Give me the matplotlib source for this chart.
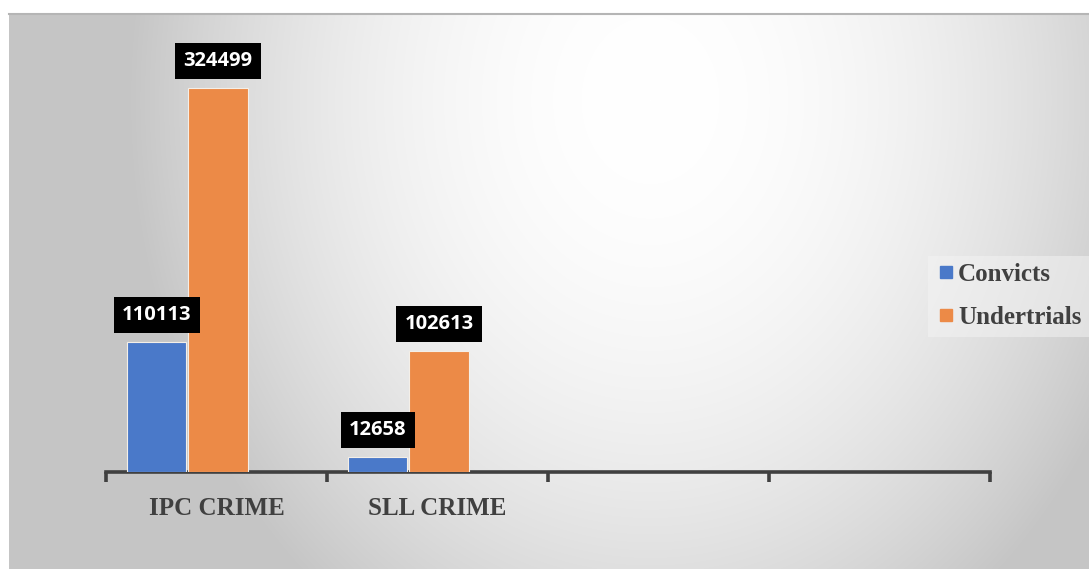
import numpy as np
import matplotlib
matplotlib.use("Agg")
import matplotlib.pyplot as plt
from matplotlib.lines import Line2D

# Data
categories = ["IPC CRIME", "SLL CRIME", "", ""]
series_names = ["Convicts", "Undertrials"]
convicts = [110113, 12658, None, None]
undertrials = [324499, 102613, None, None]
colors = ["#4a79c9", "#ec8a47"]

W, H, DPI = 1089, 569, 100
fig = plt.figure(figsize=(W / DPI, H / DPI), dpi=DPI)
fig.patch.set_facecolor("white")

# Radial grey-to-white backdrop
bg_left, bg_top = 9, 14
bg = fig.add_axes([bg_left / W, 0, 1 - bg_left / W, (H - bg_top) / H])
bw, bh = W - bg_left, H - bg_top
xx, yy = np.meshgrid(np.arange(bw) + bg_left, np.arange(bh) + bg_top)
cx, cy, rx, ry = 650, 100, 560, 680
d2 = ((xx - cx) / rx) ** 2 + ((yy - cy) / ry) ** 2
val = np.clip(1.0 - 0.26 * d2, 0.775, 1.0)
bg.imshow(np.dstack([val, val, val]), aspect="auto", interpolation="bilinear")
bg.set_axis_off()
# thin grey edge along the top
fig.add_artist(Line2D([bg_left / W, 1], [(H - bg_top) / H] * 2, color="#b5b5b5", lw=1.5,
                      transform=fig.transFigure))

# Main plotting area
ax_left, ax_right, ax_base, ymax = 106, 990, 472, 350000
px_per_unit = 384 / 324499
ax_h = ymax * px_per_unit
ax = fig.add_axes([ax_left / W, (H - ax_base) / H, (ax_right - ax_left) / W, ax_h / H])
ax.patch.set_alpha(0)

n = len(categories)
x = np.arange(n)
width = 0.268
offsets = [-0.270, 0.007]

for vals, off, col in zip([convicts, undertrials], offsets, colors):
    xs = [xi + off for xi, v in zip(x, vals) if v is not None]
    vs = [v for v in vals if v is not None]
    bars = ax.bar(xs, vs, width=width, color=col, edgecolor="#f4efe8", linewidth=0.8, zorder=3)
    for b, v in zip(bars, vs):
        ax.annotate(f"{v}", (b.get_x() + b.get_width() / 2, v), xytext=(0, 12),
                    textcoords="offset points", ha="center", va="bottom",
                    fontsize=14.5, fontweight="bold", family="Open Sans", color="white",
                    bbox=dict(boxstyle="square,pad=0.4", fc="black", ec="none"), zorder=5)

ax.set_xlim(-0.5, n - 0.5)
ax.set_ylim(0, ymax)
for s in ["top", "right", "left"]:
    ax.spines[s].set_visible(False)
ax.spines["bottom"].set_color("#404040")
ax.spines["bottom"].set_linewidth(2.6)
ax.set_yticks([])
ax.set_xticks(np.arange(n + 1) - 0.5)
ax.set_xticklabels([])
ax.tick_params(axis="x", which="major", length=7, width=2.6, color="#404040")
ax.set_xticks(x, minor=True)
ax.set_xticklabels(categories, minor=True, fontsize=18, fontweight="bold",
                   family="Liberation Serif", color="#404040")
ax.tick_params(axis="x", which="minor", length=0, pad=18)

# Legend
handles = [Line2D([], [], marker="s", linestyle="none", markersize=9, color=c) for c in colors]
leg = fig.legend(handles, series_names, loc="center left", bbox_to_anchor=(928 / W, 1 - 296 / H),
                 frameon=True, fancybox=False, framealpha=0.5, facecolor="#f4f4f4", edgecolor="none",
                 prop=dict(family="Liberation Serif", weight="bold", size=18),
                 handlelength=0.8, handletextpad=0.1, labelspacing=0.8, borderpad=0.3,
                 borderaxespad=0)
for t in leg.get_texts():
    t.set_color("#404040")

fig.savefig("out.png", dpi=DPI)
